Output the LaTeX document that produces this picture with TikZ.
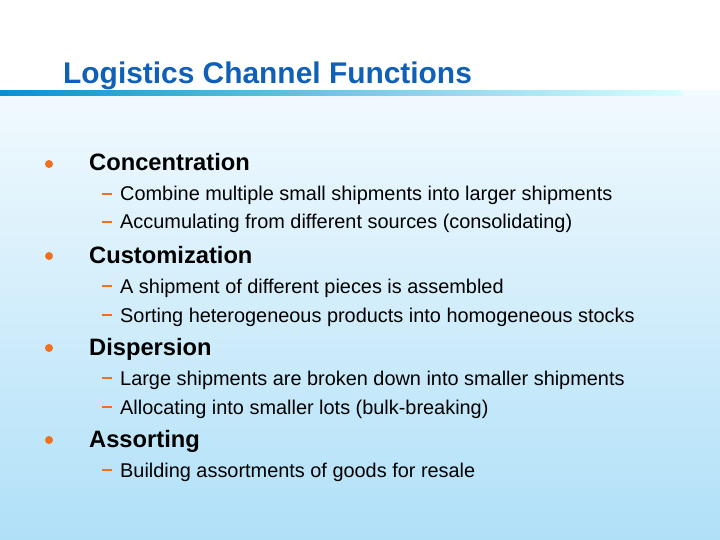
\documentclass[tikz,border=0pt]{standalone}
\usepackage{fontspec}
\setmainfont{Liberation Sans}
\begin{document}
\begin{tikzpicture}[x=1pt,y=-1pt,
  lone/.style={anchor=base west,font=\fontsize{23.7}{27}\selectfont\bfseries,inner sep=0},
  ltwo/.style={anchor=base west,font=\fontsize{19.9}{23}\selectfont,inner sep=0},
  dot/.style={circle,fill=bulor,inner sep=0,minimum size=8pt},
  dsh/.style={fill=bulor,inner sep=0,minimum width=10pt,minimum height=1.8pt}]
\definecolor{bulor}{HTML}{F07020}
\definecolor{ttl}{HTML}{1060B8}
\definecolor{bgb}{HTML}{B0E0F8}
\useasboundingbox (0,0) rectangle (720,540);
\shade[top color=white,bottom color=bgb] (0,0) rectangle (720,540);
\fill[white] (0,0) rectangle (720,90);
\shade[left color=ttl!70!cyan,right color=white!85!cyan] (0,91) rectangle (682,96);
\node[anchor=base west,inner sep=0,text=ttl,font=\fontsize{29.9}{34}\selectfont\bfseries] (title) at (63,84) {Logistics Channel Functions};
\foreach \i/\y/\t in {1/171/Concentration,2/263/Customization,3/355/Dispersion,4/447/Assorting}{
  \node[dot] (b\i) at (49,\y-7) {};
  \node[lone] (h\i) at (89,\y) {\t};
}
\foreach \i/\y/\t in {1/201/Combine multiple small shipments into larger shipments,
  2/229/Accumulating from different sources (consolidating),
  3/293/A shipment of different pieces is assembled,
  4/322/Sorting heterogeneous products into homogeneous stocks,
  5/385/Large shipments are broken down into smaller shipments,
  6/414/Allocating into smaller lots (bulk-breaking),
  7/477/Building assortments of goods for resale}{
  \node[dsh] (d\i) at (107,\y-7) {};
  \node[ltwo] (s\i) at (120,\y) {\t};
}
\end{tikzpicture}
\end{document}
